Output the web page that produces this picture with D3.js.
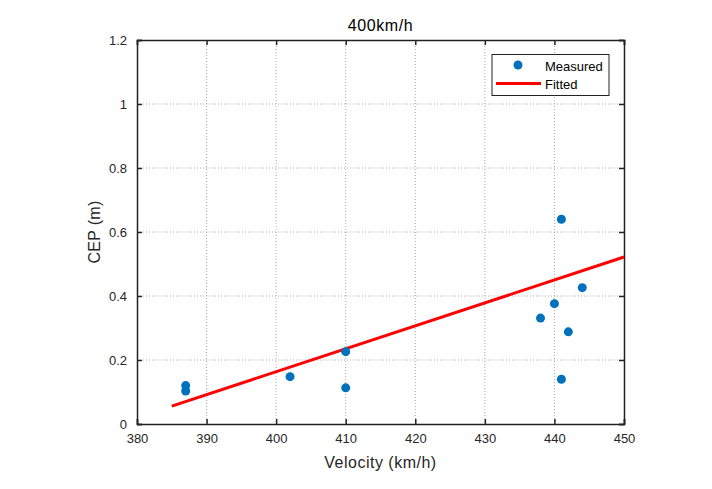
<!DOCTYPE html>
<html><head><meta charset="utf-8">
<script src="https://cdn.jsdelivr.net/npm/d3@7"></script>
<style>body{margin:0;background:#fff}svg{display:block}text{font-family:"Liberation Sans",Arial,Helvetica,sans-serif}</style>
</head><body>
<script>
const title = "400km/h";
const xLabel = "Velocity (km/h)";
const yLabel = "CEP (m)";
const measuredX = [387, 387, 402, 410, 410, 438, 440, 441, 442, 441, 444];
const measuredY = [0.12, 0.103, 0.148, 0.226, 0.113, 0.331, 0.376, 0.64, 0.288, 0.14, 0.426];
const fittedX = [385, 450];
const fittedY = [0.056, 0.522];
const xTicks = [380, 390, 400, 410, 420, 430, 440, 450];
const yTicks = [0, 0.2, 0.4, 0.6, 0.8, 1, 1.2];
const legendLabels = ["Measured", "Fitted"];

const W = 712, H = 489;
const L = 137, R = 624, T = 40, B = 424;
const svg = d3.select("body").append("svg").attr("width", W).attr("height", H);
const x = d3.scaleLinear().domain([380, 450]).range([L, R]);
const y = d3.scaleLinear().domain([0, 1.2]).range([B, T]);
const txt = "#262626";

// grid
const g = svg.append("g");
g.selectAll(".gx").data(xTicks.slice(1, -1)).join("line")
  .attr("x1", d => x(d)).attr("x2", d => x(d)).attr("y1", T).attr("y2", B)
  .attr("stroke", "#a8a8a8").attr("stroke-width", 1).attr("stroke-dasharray", "1,2");
g.selectAll(".gy").data(yTicks.slice(1, -1)).join("line")
  .attr("y1", d => y(d)).attr("y2", d => y(d)).attr("x1", L).attr("x2", R)
  .attr("stroke", "#a8a8a8").attr("stroke-width", 1).attr("stroke-dasharray", "1,2");

// axes
const fmt = d => d3.format("~g")(d);
const xa = svg.append("g").attr("transform", `translate(0,${B})`)
  .call(d3.axisBottom(x).tickValues(xTicks).tickSize(-5).tickPadding(10).tickFormat(fmt));
const xt = svg.append("g").attr("transform", `translate(0,${T})`)
  .call(d3.axisTop(x).tickValues(xTicks).tickSize(-5).tickFormat(""));
const ya = svg.append("g").attr("transform", `translate(${L},0)`)
  .call(d3.axisLeft(y).tickValues(yTicks).tickSize(-5).tickPadding(10).tickFormat(fmt));
const yr = svg.append("g").attr("transform", `translate(${R},0)`)
  .call(d3.axisRight(y).tickValues(yTicks).tickSize(-5).tickFormat(""));
[xa, xt, ya, yr].forEach(a => {
  a.select(".domain").attr("stroke", "#222").attr("stroke-width", 1.5);
  a.selectAll(".tick line").attr("stroke", "#222").attr("stroke-width", 1.5);
  a.selectAll(".tick text").attr("fill", txt).attr("font-size", 13);
});

// fitted line
const line = d3.line().x((d, i) => x(fittedX[i])).y(d => y(d));
svg.append("path").datum(fittedY).attr("d", line)
  .attr("fill", "none").attr("stroke", "#ff0000").attr("stroke-width", 3);

// points
svg.append("g").selectAll("circle").data(measuredY).join("circle")
  .attr("cx", (d, i) => x(measuredX[i])).attr("cy", d => y(d)).attr("r", 4.5)
  .attr("fill", "#0072BD");

// labels
svg.append("text").attr("x", (L + R) / 2).attr("y", 31).attr("text-anchor", "middle")
  .attr("font-size", 16).attr("letter-spacing", 0.6).attr("fill", "#000").text(title);
svg.append("text").attr("x", (L + R) / 2).attr("y", 468).attr("text-anchor", "middle")
  .attr("font-size", 16).attr("letter-spacing", 0.5).attr("fill", txt).text(xLabel);
svg.append("text").attr("transform", `translate(100,${(T + B) / 2}) rotate(-90)`)
  .attr("text-anchor", "middle").attr("font-size", 16).attr("letter-spacing", 0.3).attr("fill", txt).text(yLabel);

// legend
const lg = svg.append("g");
lg.append("rect").attr("x", 492).attr("y", 54.5).attr("width", 117).attr("height", 41)
  .attr("fill", "#fff").attr("stroke", "#222").attr("stroke-width", 1);
lg.append("circle").attr("cx", 518).attr("cy", 65).attr("r", 4.5).attr("fill", "#0072BD");
lg.append("line").attr("x1", 496).attr("x2", 541).attr("y1", 83.5).attr("y2", 83.5)
  .attr("stroke", "#ff0000").attr("stroke-width", 3);
lg.append("text").attr("x", 545).attr("y", 71).attr("font-size", 13).attr("fill", "#000").text(legendLabels[0]);
lg.append("text").attr("x", 545).attr("y", 89).attr("font-size", 13).attr("fill", "#000").text(legendLabels[1]);
</script>
</body></html>
